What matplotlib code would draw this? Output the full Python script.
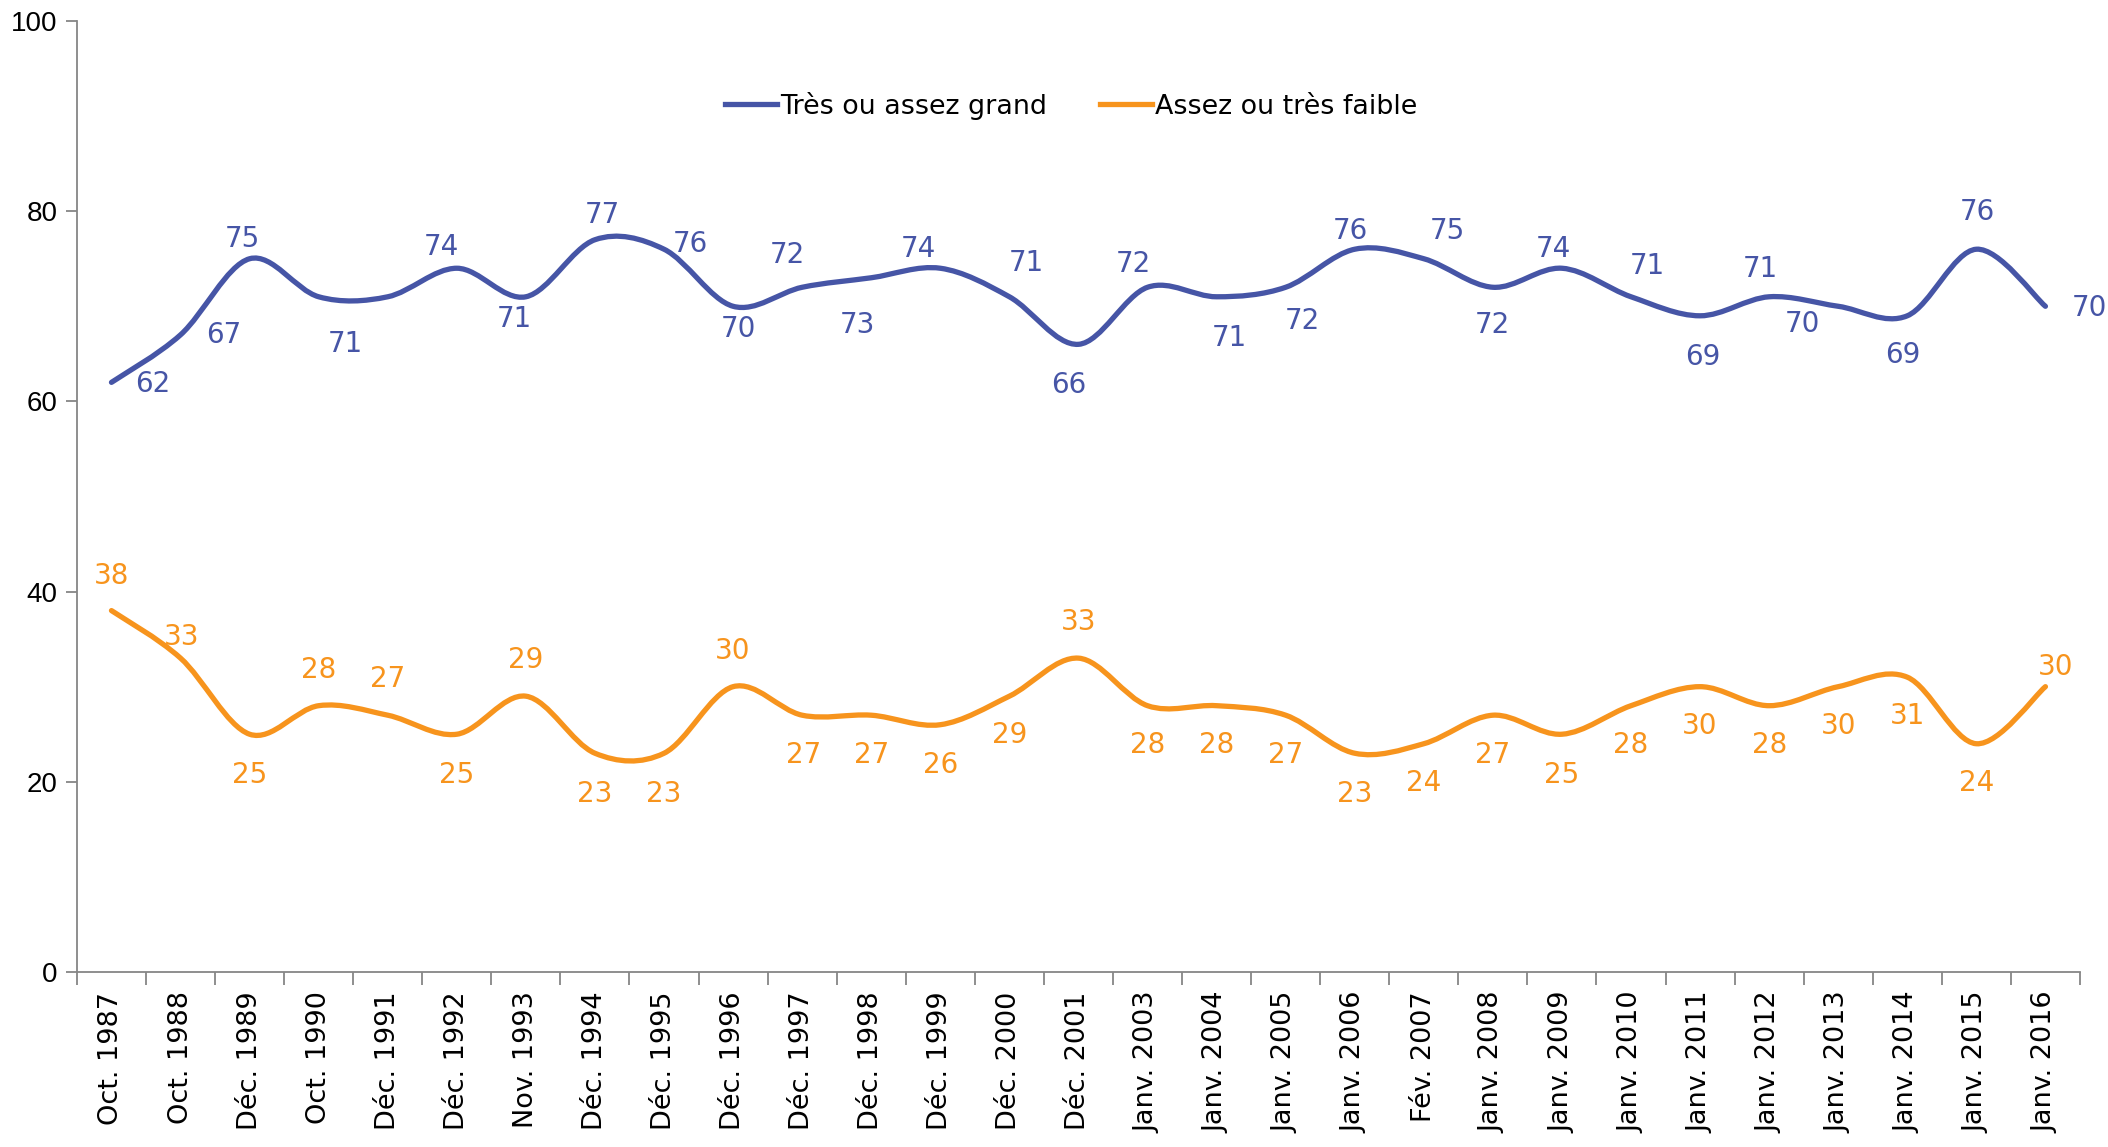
import matplotlib
matplotlib.use("Agg")
import matplotlib.pyplot as plt
from matplotlib.path import Path
from matplotlib.patches import PathPatch
from matplotlib.lines import Line2D
from matplotlib.ticker import FixedLocator, NullFormatter

# ---------------- data ----------------
categories = ["Oct. 1987", "Oct. 1988", "Déc. 1989", "Oct. 1990", "Déc. 1991",
              "Déc. 1992", "Nov. 1993", "Déc. 1994", "Déc. 1995", "Déc. 1996",
              "Déc. 1997", "Déc. 1998", "Déc. 1999", "Déc. 2000", "Déc. 2001",
              "Janv. 2003", "Janv. 2004", "Janv. 2005", "Janv. 2006", "Fév. 2007",
              "Janv. 2008", "Janv. 2009", "Janv. 2010", "Janv. 2011", "Janv. 2012",
              "Janv. 2013", "Janv. 2014", "Janv. 2015", "Janv. 2016"]

grand = [62, 67, 75, 71, 71, 74, 71, 77, 76, 70, 72, 73, 74, 71, 66,
         72, 71, 72, 76, 75, 72, 74, 71, 69, 71, 70, 69, 76, 70]
faible = [38, 33, 25, 28, 27, 25, 29, 23, 23, 30, 27, 27, 26, 29, 33,
          28, 28, 27, 23, 24, 27, 25, 28, 30, 28, 30, 31, 24, 30]

series_names = ["Très ou assez grand", "Assez ou très faible"]
y_ticks = [0, 20, 40, 60, 80, 100]

# label offsets in points (dx, dy); None = label not shown
grand_label_off = [(30, -1), (31, 0), (-5, 14), (19, -34), None, (-11, 15), (-8, -16),
                   (5, 18), (19, 4), (4, -16), (-11, 23), (-10, -34), (-16, 14), (12, 24),
                   (-7, -29), (-10, 17), (9, -30), (12, -24), (-3, 13), (17, 20), (0, -27),
                   (-6, 14), (12, 22), (2, -30), (-6, 20), (-26, -13), (-3, -28), (1, 27),
                   (32, -1)]
faible_label_off = [(0, 25), (1, 15), (0, -29), (0, 26), (0, 26), (0, -29), (0, 26),
                    (0, -29), (0, -29), (0, 26), (1, -29), (0, -29), (0, -29), (0, -28),
                    (0, 26), (0, -28), (0, -28), (0, -29), (0, -29), (0, -28), (0, -29),
                    (0, -29), (0, -28), (0, -28), (0, -28), (0, -28), (0, -28), (0, -28),
                    (7, 14)]

BLUE = "#4655A6"
ORANGE = "#F7941D"

# ---------------- figure ----------------
fig = plt.figure(figsize=(21.08, 11.47), dpi=100)
ax = fig.add_axes([0.0365, 0.1526, 0.9502, 0.8291])

x = list(range(len(categories)))


def smooth_path(xs, ys):
    pts = list(zip(xs, ys))
    n = len(pts)
    verts = [pts[0]]
    codes = [Path.MOVETO]
    for i in range(n - 1):
        p0 = pts[i - 1] if i > 0 else pts[i]
        p1 = pts[i]
        p2 = pts[i + 1]
        p3 = pts[i + 2] if i + 2 < n else pts[i + 1]
        c1 = (p1[0] + (p2[0] - p0[0]) / 6.0, p1[1] + (p2[1] - p0[1]) / 6.0)
        c2 = (p2[0] - (p3[0] - p1[0]) / 6.0, p2[1] - (p3[1] - p1[1]) / 6.0)
        verts += [c1, c2, p2]
        codes += [Path.CURVE4, Path.CURVE4, Path.CURVE4]
    return Path(verts, codes)


for vals, col, offs in [(grand, BLUE, grand_label_off), (faible, ORANGE, faible_label_off)]:
    patch = PathPatch(smooth_path(x, vals), facecolor="none", edgecolor=col,
                      lw=3.8, capstyle="round", joinstyle="round")
    ax.add_patch(patch)
    for xi, v, off in zip(x, vals, offs):
        if off is None:
            continue
        ax.annotate(str(v), (xi, v), xytext=off, textcoords="offset points",
                    ha="center", va="center", color=col, fontsize=20,
                    family="DejaVu Sans")

ax.set_xlim(-0.5, len(categories) - 0.5)
ax.set_ylim(0, 100)

# axes styling
for s in ["top", "right"]:
    ax.spines[s].set_visible(False)
for s in ["left", "bottom"]:
    ax.spines[s].set_color("#868686")
    ax.spines[s].set_linewidth(1.3)

ax.set_yticks(y_ticks)
ax.set_yticklabels([str(t) for t in y_ticks], family="Liberation Sans", fontsize=20)
ax.tick_params(axis="y", length=8, width=1.3, color="#868686", pad=6)

ax.set_xticks(x)
ax.set_xticklabels(categories, rotation=90, family="DejaVu Sans", fontsize=19.5)
ax.tick_params(axis="x", which="major", length=0, pad=14)
ax.xaxis.set_minor_locator(FixedLocator([i - 0.5 for i in range(len(categories) + 1)]))
ax.xaxis.set_minor_formatter(NullFormatter())
ax.tick_params(axis="x", which="minor", length=9, width=1.3, color="#868686")

handles = [Line2D([], [], color=BLUE, lw=3.8), Line2D([], [], color=ORANGE, lw=3.8)]
fig.legend(handles, series_names, loc="center", bbox_to_anchor=(0.508, 0.908), ncol=2,
           frameon=False, prop={"family": "DejaVu Sans", "size": 19.4},
           handlelength=1.95, handletextpad=0.1, columnspacing=1.95)

fig.savefig("out.png", dpi=100, facecolor="white")
